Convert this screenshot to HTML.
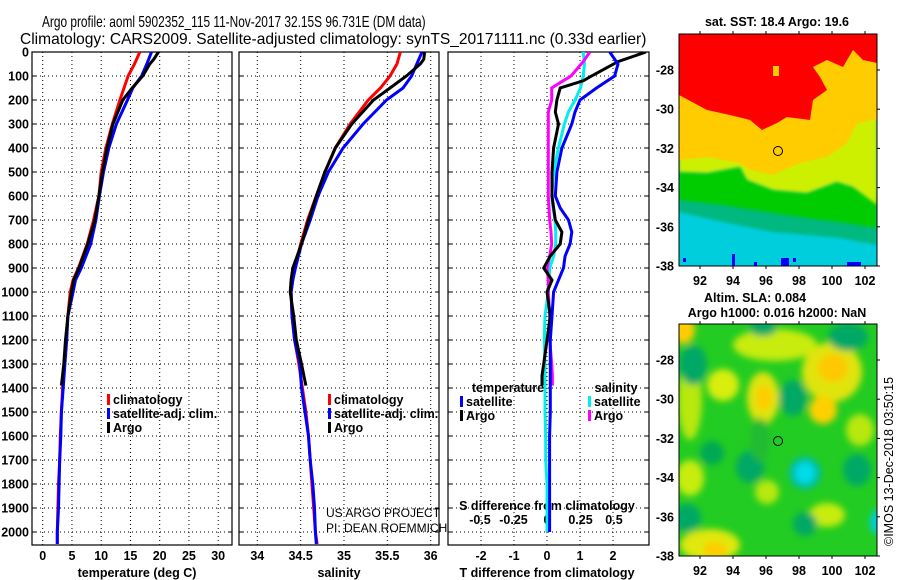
<!DOCTYPE html>
<html><head><meta charset="utf-8"><style>
html,body{margin:0;padding:0;background:#fff;}
svg{display:block;font-family:"Liberation Sans",sans-serif;}
.b{font-weight:bold;font-size:12.5px;}
</style></head><body>
<svg id="c" width="900" height="580" viewBox="0 0 900 580">
<defs>
<clipPath id="cp1"><rect x="32" y="52" width="200" height="493"/></clipPath>
<clipPath id="cp2"><rect x="239" y="52" width="200" height="493"/></clipPath>
<clipPath id="cp3"><rect x="448" y="52" width="201" height="493"/></clipPath>
<clipPath id="cm1"><rect x="679" y="34" width="198" height="232"/></clipPath>
<clipPath id="cm2"><rect x="679" y="324" width="198" height="232"/></clipPath>
<filter id="bl" x="-50%" y="-50%" width="200%" height="200%"><feGaussianBlur stdDeviation="3.5"/></filter>
<filter id="bl2" x="-50%" y="-50%" width="200%" height="200%"><feGaussianBlur stdDeviation="1.5"/></filter>
</defs>
<text id="t1" x="0" y="0" font-size="16">Argo profile: aoml 5902352_115 11-Nov-2017 32.15S 96.731E (DM data)</text>
<text id="t2" x="0" y="0" font-size="16">Climatology: CARS2009. Satellite-adjusted climatology: synTS_20171111.nc (0.33d earlier)</text>

<g>
<g clip-path="url(#cm1)">
<rect x="679" y="34" width="198" height="232" fill="#00cedd"/>
<polygon fill="#00b880" filter="url(#bl2)" points="679,165 707,167 740,160 750,175 773,185 807,188 837,178 853,182 877,195 877,245 840,238 807,235 773,232 723,222 679,212"/>
<polygon fill="#00cc00" filter="url(#bl2)" points="679,172 707,173 740,167 747,180 773,190 807,193 837,182 853,187 877,200 877,228 840,222 807,218 773,213 723,205 679,200"/>
<polygon fill="#ccf000" filter="url(#bl2)" points="679,150 707,150 740,155 750,162 773,168 783,165 800,158 827,150 847,135 857,115 877,110 877,205 853,187 837,182 807,193 773,190 747,180 740,167 707,173 679,172"/>
<polygon fill="#ffcc00" points="679,34 877,34 877,120 873,120 857,123 847,143 827,157 800,163 783,170 773,175 750,170 740,163 707,157 679,160"/>
<polygon fill="#ff0000" points="679,34 877,34 877,63 863,60 853,50 843,67 827,60 813,67 820,77 827,90 813,100 810,120 787,117 777,123 762,130 750,120 730,115 707,110 679,95"/>
<rect x="773" y="66" width="6" height="10" fill="#ffcc00"/>
<rect x="683" y="258" width="3" height="4" fill="#0000ff"/><rect x="732" y="254" width="3" height="12" fill="#0000ff"/><rect x="754" y="262" width="3" height="4" fill="#0000ff"/><rect x="781" y="258" width="8" height="8" fill="#0000ff"/><rect x="793" y="258" width="3" height="4" fill="#0000ff"/><rect x="847" y="262" width="14" height="4" fill="#0000ff"/>
</g>
<rect x="679" y="34" width="198" height="232" fill="none" stroke="#000"/>
<circle cx="778" cy="151" r="4.5" fill="none" stroke="#000"/>
</g>

<g>
<g clip-path="url(#cm2)">
<rect x="679" y="324" width="198" height="232" fill="#22cc22"/>
<g filter="url(#bl)">
<ellipse cx="775" cy="345" rx="42" ry="16" fill="#c8ec10"/>
<ellipse cx="690" cy="400" rx="12" ry="40" fill="#b8e810"/>
<ellipse cx="683" cy="330" rx="12" ry="14" fill="#ffcc00"/>
<ellipse cx="723" cy="385" rx="16" ry="16" fill="#d8ee10"/>
<ellipse cx="763" cy="398" rx="16" ry="26" fill="#e0e410"/>
<ellipse cx="764" cy="398" rx="8" ry="12" fill="#ffcc00"/>
<ellipse cx="832" cy="372" rx="30" ry="30" fill="#e0e410"/>
<ellipse cx="833" cy="368" rx="15" ry="14" fill="#ffc800"/>
<ellipse cx="823" cy="410" rx="14" ry="14" fill="#ffd000"/>
<ellipse cx="690" cy="478" rx="14" ry="18" fill="#c8ec10"/>
<ellipse cx="767" cy="492" rx="12" ry="12" fill="#b8e810"/>
<ellipse cx="827" cy="515" rx="18" ry="12" fill="#c8ec10"/>
<ellipse cx="710" cy="545" rx="30" ry="16" fill="#e0e810"/>
<ellipse cx="715" cy="550" rx="12" ry="8" fill="#ffcc00"/>
<ellipse cx="860" cy="430" rx="14" ry="16" fill="#b8e810"/>
<ellipse cx="693" cy="365" rx="14" ry="20" fill="#00a866"/>
<ellipse cx="793" cy="398" rx="14" ry="18" fill="#00a866"/>
<ellipse cx="750" cy="467" rx="14" ry="16" fill="#00a866"/>
<ellipse cx="712" cy="453" rx="12" ry="12" fill="#00a855"/>
<ellipse cx="857" cy="470" rx="14" ry="16" fill="#00a866"/>
<ellipse cx="687" cy="518" rx="14" ry="14" fill="#00a866"/>
<ellipse cx="805" cy="524" rx="12" ry="12" fill="#00a866"/>
<ellipse cx="848" cy="337" rx="20" ry="14" fill="#00a866"/>
<ellipse cx="763" cy="328" rx="14" ry="8" fill="#00a866"/>
<ellipse cx="760" cy="440" rx="10" ry="22" fill="#22bb33"/>
<ellipse cx="805" cy="473" rx="16" ry="16" fill="#00bbaa"/>
<ellipse cx="805" cy="473" rx="10" ry="11" fill="#00dde8"/>
<ellipse cx="877" cy="522" rx="7" ry="12" fill="#00ccdd"/>
</g>
</g>
<rect x="679" y="324" width="198" height="232" fill="none" stroke="#000"/>
<circle cx="778" cy="441" r="4.5" fill="#22cc22" stroke="#000"/>
</g>

<text x="777" y="26" text-anchor="middle" class="b">sat. SST: 18.4 Argo: 19.6</text>
<text x="755" y="302" text-anchor="middle" class="b">Altim. SLA: 0.084</text>
<text x="777" y="317" text-anchor="middle" class="b">Argo h1000: 0.016 h2000: NaN</text>
<text transform="translate(893,546) rotate(-90)" font-size="12.5">©IMOS 13-Dec-2018 03:50:15</text>
<text x="326" y="517" font-size="12">US ARGO PROJECT</text>
<text x="326" y="532" font-size="12">PI: DEAN ROEMMICH</text>
<g id="g"></g>
</svg>
<script>
// fit titles by horizontal scaling
[['t1',42,27,384],['t2',20,44,627]].forEach(([id,x,y,w])=>{
  const e=document.getElementById(id);
  const L=e.getComputedTextLength()||w;
  e.setAttribute('transform','translate('+x+','+y+') scale('+(w/L)+',1)');
});
// depth axis ticks
const depthTicks = [0,100,200,300,400,500,600,700,800,900,1000,1100,1200,1300,1400,1500,1600,1700,1800,1900,2000];
const tempTicks = [0,5,10,15,20,25,30];
const salTicks = [34,34.5,35,35.5,36];
const tdiffTicks = [-2,-1,0,1,2];
const sdiffTicks = [-0.5,-0.25,0,0.25,0.5];
const latTicks = [-28,-30,-32,-34,-36,-38];
const lonTicks = [92,94,96,98,100,102];
// temperature / salinity profiles (climatology + satellite share depths)
const climDepth = [0,50,100,150,200,300,400,500,600,700,800,900,950,1000,1100,1200,1300,1400,1500,1600,1700,1800,1900,2000,2050];
const tClim = [16.6,15.7,14.6,13.9,13.2,11.9,10.8,10.0,9.6,8.7,7.6,6.1,5.2,4.7,4.3,4.0,3.7,3.4,3.2,3.0,2.9,2.7,2.6,2.5,2.5];
const tSat = [18.6,17.8,16.9,15.4,14.5,12.6,11.3,10.4,9.7,9.1,8.2,6.6,5.6,5.2,4.3,4.1,3.8,3.5,3.2,3.1,2.9,2.8,2.7,2.5,2.5];
const sClim = [35.65,35.61,35.53,35.42,35.28,35.07,34.90,34.78,34.68,34.58,34.50,34.43,34.41,34.39,34.40,34.43,34.48,34.52,34.56,34.59,34.61,34.63,34.65,34.67,34.69];
const sSat = [35.90,35.84,35.78,35.68,35.49,35.22,34.99,34.82,34.70,34.61,34.51,34.44,34.41,34.39,34.40,34.43,34.49,34.51,34.55,34.59,34.61,34.64,34.66,34.67,34.68];
const argoDepth = [0,30,50,100,150,200,300,400,500,600,700,800,900,950,1000,1100,1200,1300,1390];
const tArgo = [19.8,19.0,18.3,17.1,15.3,13.7,12.0,11.0,10.2,9.6,8.9,7.7,6.2,5.3,4.9,4.3,3.9,3.6,3.2];
const sArgo = [35.93,35.92,35.88,35.72,35.53,35.34,35.09,34.90,34.78,34.68,34.59,34.51,34.41,34.39,34.38,34.42,34.45,34.51,34.56];
// differences from climatology
const diffDepth = [0,50,100,150,200,250,300,400,500,600,650,700,750,800,850,900,950,1000,1100,1200,1300,1400,1500,1600,1700,1800,1900,2000];
const tdSat = [1.9,2.15,2.05,1.5,1.0,0.85,0.75,0.45,0.3,0.25,0.4,0.65,0.75,0.7,0.55,0.5,0.35,0.2,0.15,0.1,0.1,0.1,0.1,0.08,0.08,0.08,0.08,0.08];
const sdSat = [0.27,0.28,0.27,0.25,0.21,0.16,0.13,0.085,0.05,0.035,0.045,0.06,0.065,0.065,0.05,0.02,0.015,0.01,-0.015,-0.02,-0.015,-0.015,-0.015,-0.01,-0.01,0,0,0];
const argoDiffDepth = [0,40,100,120,150,200,250,300,400,500,600,700,750,800,850,900,950,1000,1100,1200,1300,1350,1390];
const tdArgo = [3.0,2.15,1.35,1.1,0.4,0.3,0.25,0.35,0.2,0.15,0.15,0.25,0.45,0.4,0.1,-0.1,0.15,0,0.1,0,-0.1,-0.15,-0.15];
const sdArgo = [0.32,0.27,0.18,0.12,0.035,0.035,0.01,0.01,0.01,0.01,0.01,0.02,0.03,0.035,0.02,0,0.01,0.01,0.02,0.02,0.035,0.04,0.04];

const NS='http://www.w3.org/2000/svg';
const G=document.getElementById('g');
function mk(tag,attrs,parent){const e=document.createElementNS(NS,tag);for(const k in attrs)e.setAttribute(k,attrs[k]);(parent||G).appendChild(e);return e;}
const yD = d => 52 + d*0.24;
const xT = v => 42.7 + v*5.85;
const xS = v => 257.3 + (v-34)*86.7;
const xTd = v => 547 + v*33;
const xSd = v => 547 + v*134;
const yLat = l => 70 + (-28-l)*19.6;
const xLon = l => 700 + (l-92)*16.5;
const panels=[{x:32,name:'temperature-panel',clip:'cp1'},{x:239,name:'salinity-panel',clip:'cp2'},{x:448,name:'difference-panel',clip:'cp3',w:201}];

panels.forEach((p,i)=>{
  const w=p.w||200;
  const g=mk('g',{});
  
  
  depthTicks.forEach(d=>{
    const l=mk('line',{x1:p.x,x2:p.x+w,y1:yD(d),y2:yD(d),stroke:'#000','stroke-dasharray':'1,3','stroke-width':1},g);
    
    
    mk('line',{x1:p.x,x2:p.x+4,y1:yD(d),y2:yD(d),stroke:'#000'},g);
    mk('line',{x1:p.x+w-4,x2:p.x+w,y1:yD(d),y2:yD(d),stroke:'#000'},g);
  });
  const xs = i===0?tempTicks.map(xT):i===1?salTicks.map(xS):tdiffTicks.map(xTd);
  xs.forEach(x=>{
    const l=mk('line',{x1:x,x2:x,y1:52,y2:545,stroke:'#000','stroke-dasharray':'1,3'},g);
    
    
  });
  mk('rect',{x:p.x,y:52,width:w,height:493,fill:'none',stroke:'#000','stroke-width':1.2},g);
});
depthTicks.forEach(d=>{
  const t=mk('text',{x:29,y:yD(d)+4.5,'text-anchor':'end','class':'b'});
  t.textContent=d;
  
  
});
function xlabels(ticks,fx,y,name){
  ticks.forEach(v=>{
    const t=mk('text',{x:fx(v),y:y,'text-anchor':'middle','class':'b'});
    t.textContent=(v<0?'-':'')+String(Math.abs(v));
    
    
  });
}
xlabels(tempTicks,xT,560,'temperature-tick-label');
xlabels(salTicks,xS,560,'salinity-tick-label');
xlabels(tdiffTicks,xTd,560,'t-diff-tick-label');
xlabels(sdiffTicks,xSd,524,'s-diff-tick-label');
function title(x,y,s,name){const t=mk('text',{x:x,y:y,'text-anchor':'middle','class':'b'});t.textContent=s;
  
  }
title(137,577,'temperature (deg C)','x-axis-title-temperature');
title(339,577,'salinity','x-axis-title-salinity');
title(547,577,'T difference from climatology','x-axis-title-t-diff');
title(547,510,'S difference from climatology','x-axis-title-s-diff');

[[34,266],[324,556]].forEach(([y0,y1],mi)=>{
  latTicks.forEach(l=>{
    const y=yLat(l)+(mi?290:0);
    const t=mk('text',{x:674,y:y+4.5,'text-anchor':'end','class':'b'});t.textContent=l;
    
    
    mk('line',{x1:877,x2:880,y1:y,y2:y,stroke:'#000'});
  });
  lonTicks.forEach(l=>{
    const x=xLon(l);
    const t=mk('text',{x:x,y:y1+19,'text-anchor':'middle','class':'b'});t.textContent=l;
    
    
    mk('line',{x1:x,x2:x,y1:y1,y2:y1+3,stroke:'#000'});
    mk('line',{x1:x,x2:x,y1:y0-3,y2:y0,stroke:'#000'});
  });
});

function line(depths,vals,fx,color,clip,name){
  const pts=depths.map((d,i)=>fx(vals[i]).toFixed(1)+','+yD(d).toFixed(1)).join(' ');
  const p=mk('polyline',{points:pts,fill:'none',stroke:color,'stroke-width':3,'stroke-linejoin':'miter','clip-path':'url(#'+clip+')'});
  
  
}
line(climDepth,tClim,xT,'#ff0000','cp1','temperature-climatology-line');
line(climDepth,tSat,xT,'#0000ff','cp1','temperature-satellite-line');
line(argoDepth,tArgo,xT,'#000000','cp1','temperature-argo-line');
line(climDepth,sClim,xS,'#ff0000','cp2','salinity-climatology-line');
line(climDepth,sSat,xS,'#0000ff','cp2','salinity-satellite-line');
line(argoDepth,sArgo,xS,'#000000','cp2','salinity-argo-line');
line(diffDepth,sdSat,xSd,'#00eeee','cp3','s-diff-satellite-line');
line(argoDiffDepth,sdArgo,xSd,'#ff00ff','cp3','s-diff-argo-line');
line(argoDiffDepth,tdArgo,xTd,'#000000','cp3','t-diff-argo-line');
line(diffDepth,tdSat,xTd,'#0000ff','cp3','t-diff-satellite-line');

function legend(x,y,color,label){
  const g=mk('g',{});
  
  
  mk('rect',{x:x,y:y-9,width:3,height:11,fill:color},g);
  const t=mk('text',{x:x+6,y:y+1,'class':'b'},g);t.textContent=label;
}
legend(107,403,'#ff0000','climatology');
legend(107,417,'#0000ff','satellite-adj. clim.');
legend(107,431,'#000000','Argo');
legend(328,403,'#ff0000','climatology');
legend(328,417,'#0000ff','satellite-adj. clim.');
legend(328,431,'#000000','Argo');
title(508,392,'temperature','legend-title-temperature');
title(616,392,'salinity','legend-title-salinity');
legend(460,405,'#0000ff','satellite');
legend(460,419,'#000000','Argo');
legend(588,405,'#00eeee','satellite');
legend(588,419,'#ff00ff','Argo');
</script>
</body></html>
